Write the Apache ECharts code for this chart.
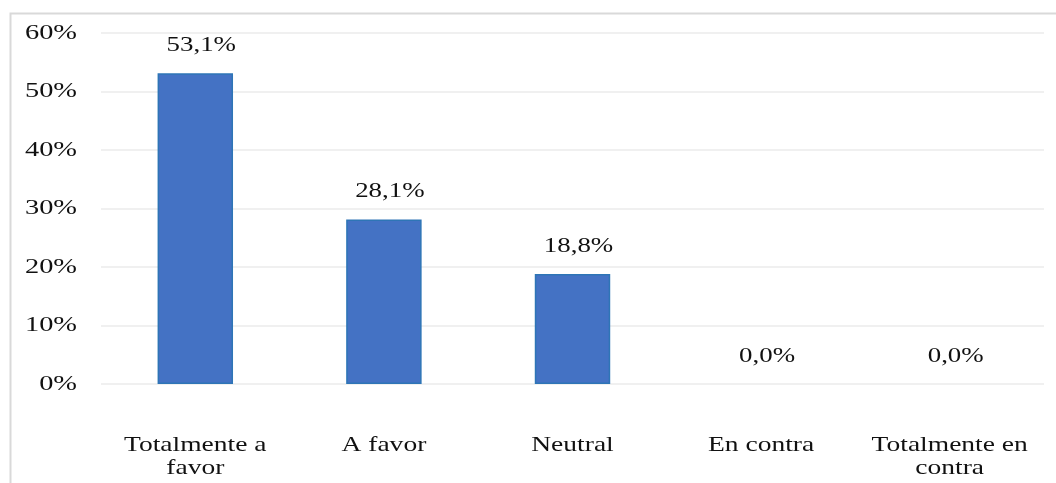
<!DOCTYPE html>
<html>
<head>
<meta charset="utf-8">
<script src="https://cdn.jsdelivr.net/npm/echarts@6/dist/echarts.min.js"></script>
<style>
  html, body { margin: 0; padding: 0; background: #fff; }
  #chart { width: 1056px; height: 483px; }
</style>
</head>
<body>
<div id="chart"></div>
<script>
// Survey answers and their share of responses (%)
const categories = ['Totalmente a\nfavor', 'A favor', 'Neutral', 'En contra', 'Totalmente en\ncontra'];
const shares = [53.1, 28.1, 18.8, 0.0, 0.0];
const yTicks = [0, 10, 20, 30, 40, 50, 60];

const serif = '"Liberation Serif", "Times New Roman", serif';
const textColor = '#111111';
const fmtPct = v => v.toFixed(1).replace('.', ',') + '%';

const chart = echarts.init(document.getElementById('chart'));

const frame = {
  id: 'frame',
  type: 'rect',
  shape: { x: 10.5, y: 13.5, width: 1200, height: 600 },
  style: { fill: 'none', stroke: '#d9d9d9', lineWidth: 2 },
  silent: true,
  z: -1
};

chart.setOption({
  animation: false,
  backgroundColor: '#ffffff',
  graphic: [frame],
  grid: { left: 101, right: 12, top: 33, bottom: 99 },
  xAxis: {
    type: 'category',
    data: categories,
    axisLine: { show: false },
    axisTick: { show: false },
    axisLabel: { show: false }
  },
  yAxis: {
    type: 'value',
    min: yTicks[0],
    max: yTicks[yTicks.length - 1],
    interval: 10,
    axisLine: { show: false },
    axisTick: { show: false },
    splitLine: { lineStyle: { color: '#ebebeb', width: 1.5 } },
    axisLabel: { show: false }
  },
  series: [{
    type: 'bar',
    data: shares.map(v => ({
      value: v,
      itemStyle: { borderWidth: v > 0 ? 1.5 : 0 }
    })),
    barWidth: '40%',
    itemStyle: { color: '#4472C4', borderColor: '#2E75B6' },
    label: { show: false }
  }]
});

// Wide serif text, placed from the axis scales
function wideText(id, text, x, y, size, sx, align, vAlign, lineHeight) {
  return {
    id: id,
    type: 'text',
    x: x,
    y: y,
    scaleX: sx,
    silent: true,
    style: {
      text: text,
      x: 0,
      y: 0,
      align: align,
      verticalAlign: vAlign,
      font: size + 'px ' + serif,
      lineHeight: lineHeight || size,
      fill: textColor
    }
  };
}

const texts = [];
const tickLabelRight = 77;
yTicks.forEach((t, i) => {
  const py = chart.convertToPixel({ yAxisIndex: 0 }, t);
  texts.push(wideText('ytick' + i, t + '%', tickLabelRight, py + 0.5, 20, 1.42, 'right', 'middle'));
});

const categoryLabelTop = 434;
categories.forEach((c, i) => {
  const px = chart.convertToPixel({ xAxisIndex: 0 }, i);
  texts.push(wideText('cat' + i, c, px, categoryLabelTop, 21, 1.31, 'center', 'top', 23));
});

// value labels sit slightly right of the bar centre
const valueLabelGap = 28;
const valueLabelShift = 6;
shares.forEach((v, i) => {
  const [px, py] = chart.convertToPixel({ seriesIndex: 0 }, [i, v]);
  texts.push(wideText('val' + i, fmtPct(v), px + valueLabelShift, py - valueLabelGap, 21, 1.28, 'center', 'middle'));
});

chart.setOption({ graphic: [frame].concat(texts) });
</script>
</body>
</html>
